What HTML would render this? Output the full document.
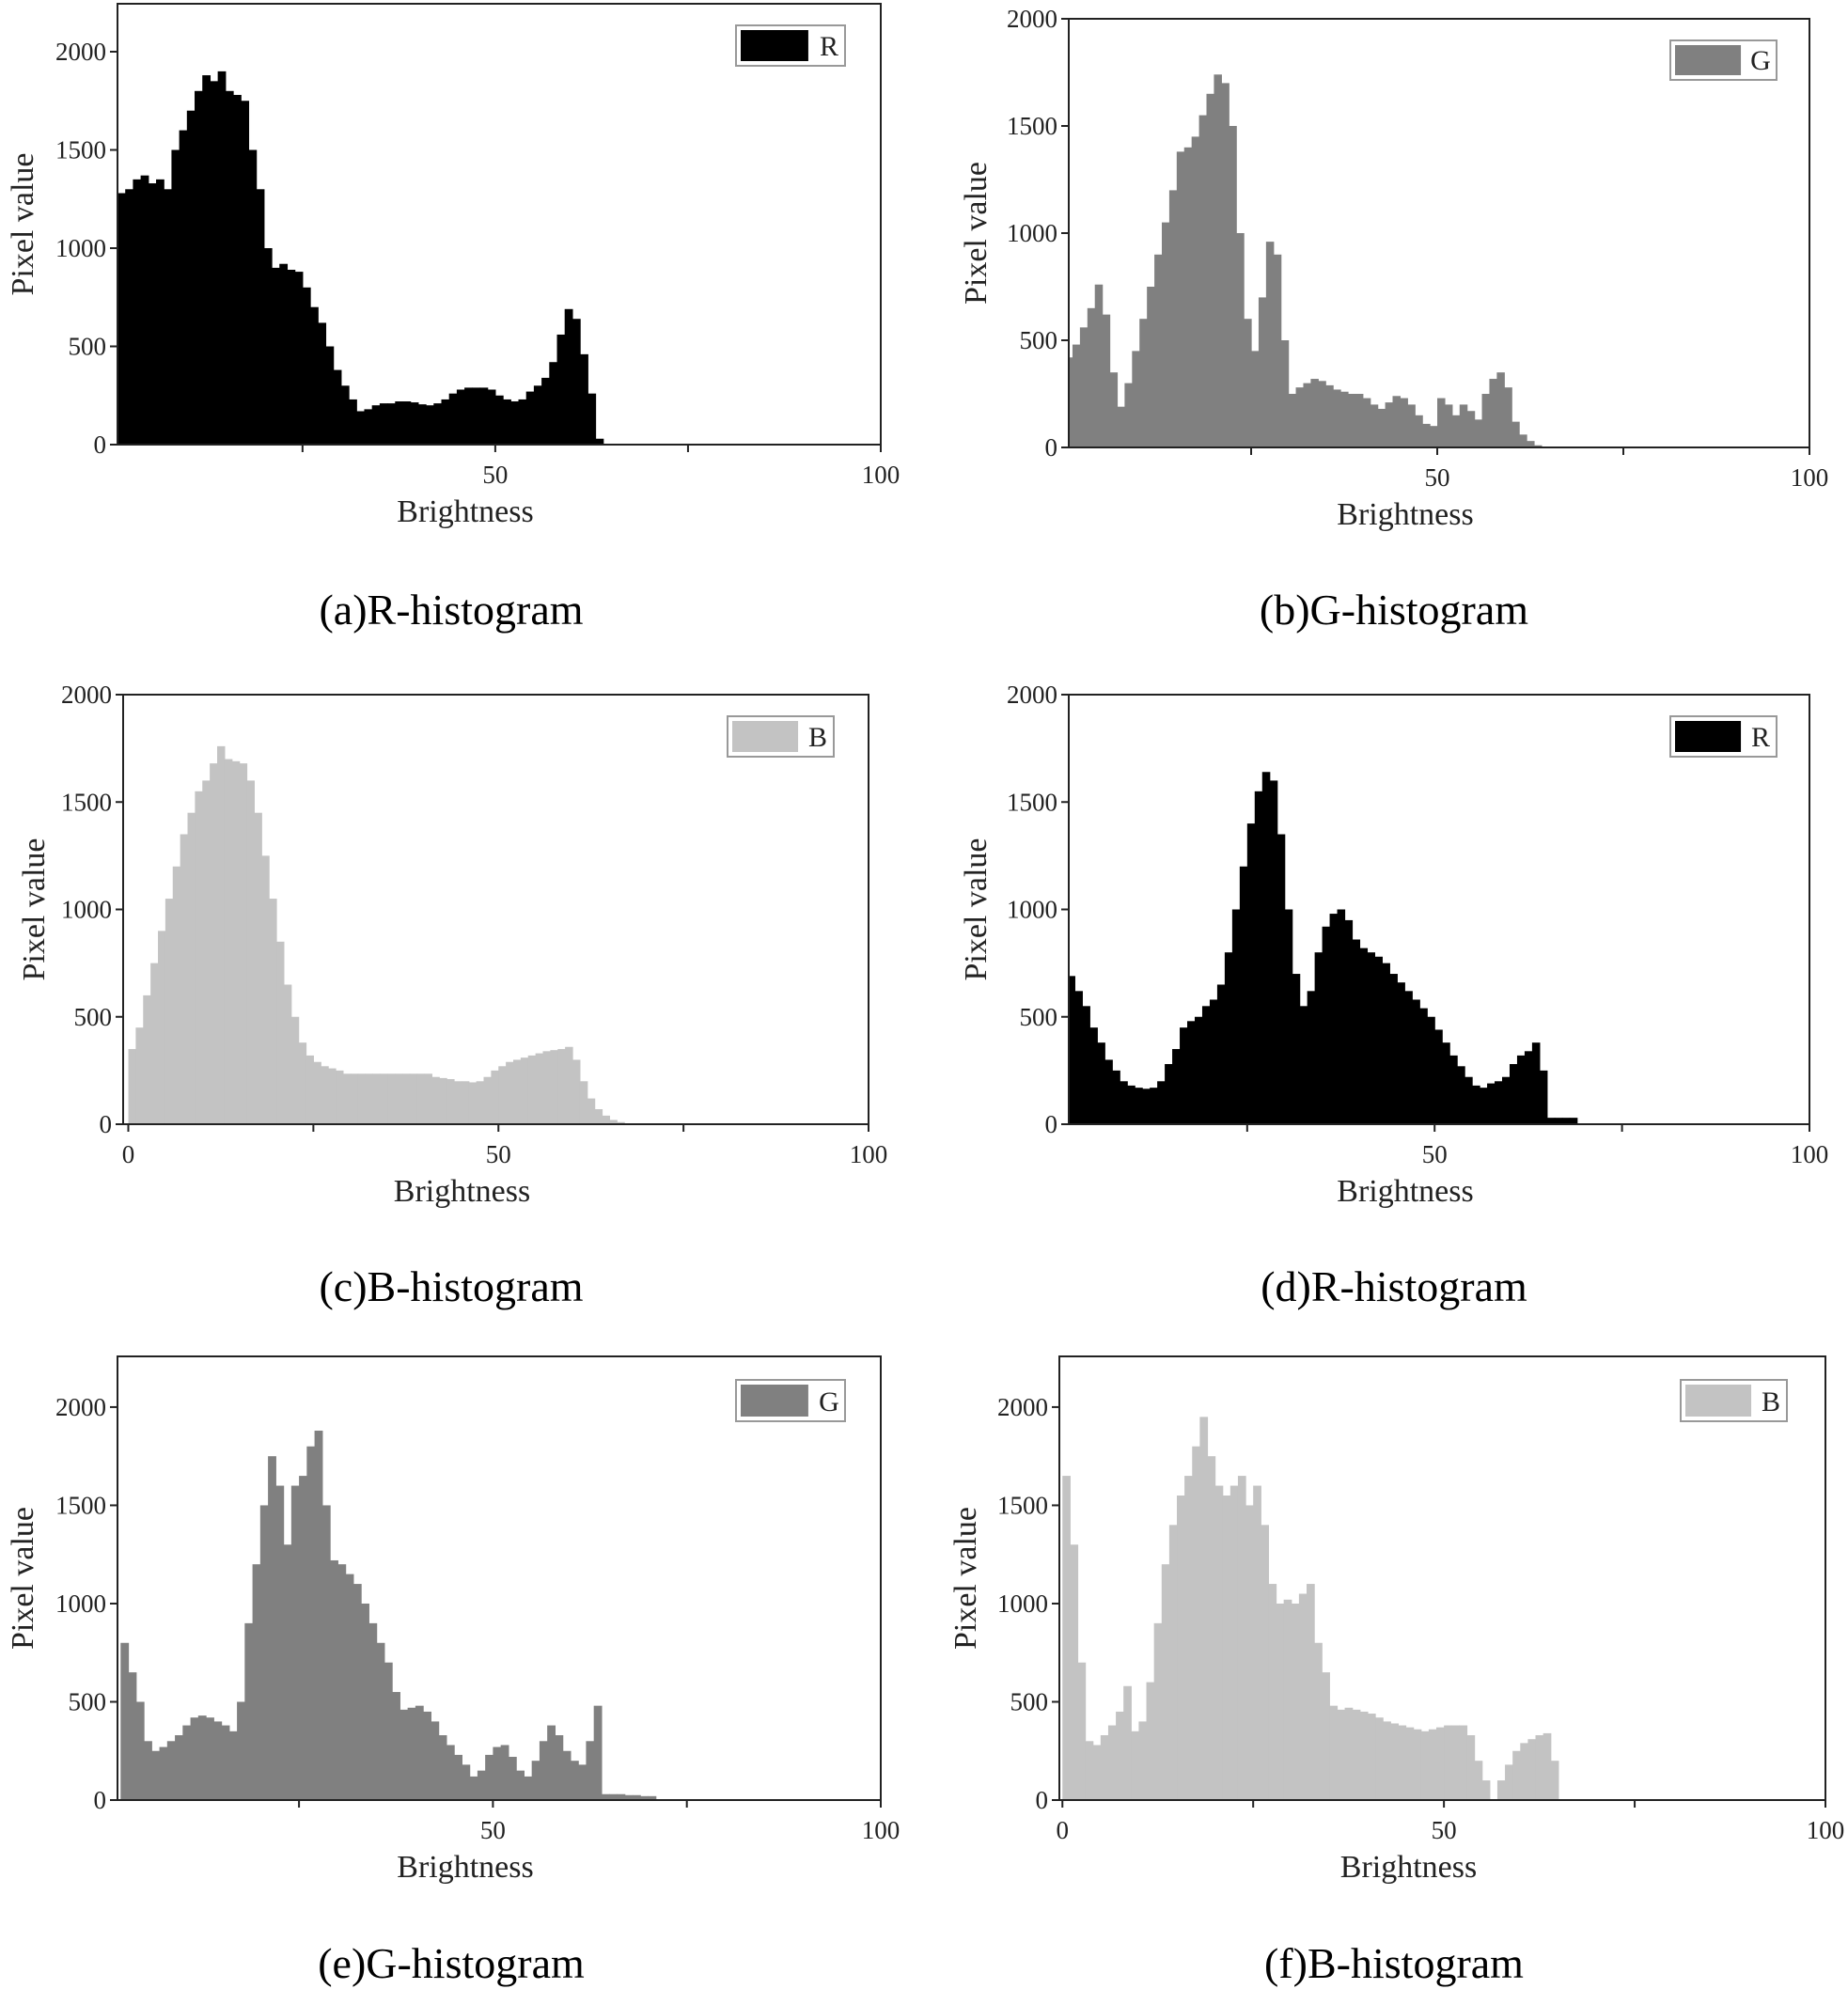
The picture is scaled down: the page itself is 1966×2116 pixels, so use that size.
<!DOCTYPE html>
<html><head><meta charset="utf-8">
<style>
body{margin:0;background:#fff;}
svg{display:block;font-family:"Liberation Serif",serif;}
</style></head>
<body>
<svg id="fig" width="1966" height="2116" viewBox="0 0 1966 2116" xmlns="http://www.w3.org/2000/svg"></svg>
<script>
// ---- data: bin start brightness + bin counts ----
const aStart = 1;
const aVals = [1280,1300,1350,1370,1330,1350,1300,1500,1600,1700,1800,1880,1850,1900,1800,1780,1750,1500,1300,1000,900,920,890,880,800,700,620,500,380,300,230,170,180,200,210,210,220,220,215,205,200,210,230,260,280,290,290,290,280,250,230,220,230,270,300,340,420,560,690,640,460,260,30];
const bStart = 0;
const bVals = [420,480,560,650,760,620,350,190,300,450,600,750,900,1050,1200,1380,1400,1450,1550,1650,1740,1700,1500,1000,600,450,700,960,900,500,250,280,300,320,310,290,270,260,250,250,230,200,180,210,240,230,200,150,110,100,230,200,150,200,170,130,250,320,350,280,120,60,30,10];
const cStart = 0;
const cVals = [350,450,600,750,900,1050,1200,1350,1450,1550,1600,1680,1760,1700,1690,1680,1600,1450,1250,1050,850,650,500,380,320,290,270,260,250,235,235,235,235,235,235,235,235,235,235,235,235,220,215,210,200,200,195,200,220,250,270,290,300,310,320,330,340,345,350,360,300,200,120,70,40,20,10];
const dStart = 1;
const dVals = [690,620,550,450,380,300,250,200,180,170,165,170,200,280,350,450,480,500,550,580,650,800,1000,1200,1400,1550,1640,1600,1350,1000,700,550,620,800,920,980,1000,950,860,820,800,780,750,700,660,620,580,540,500,440,380,320,270,220,180,170,190,200,220,280,320,340,380,250,30,30,30,30];
const eStart = 2;
const eVals = [800,650,500,300,250,270,300,330,380,420,430,420,400,380,350,500,900,1200,1500,1750,1600,1300,1600,1650,1800,1880,1500,1220,1200,1150,1100,1000,900,800,700,550,460,470,480,450,400,330,280,230,180,120,150,230,270,280,220,150,120,200,300,380,330,250,200,180,300,480,30,30,30,25,25,20,20];
const fStart = 0;
const fVals = [1650,1300,700,300,280,330,380,450,580,350,400,600,900,1200,1400,1550,1650,1800,1950,1750,1600,1550,1600,1650,1500,1600,1400,1100,1000,1020,1000,1050,1100,800,650,480,460,470,460,450,440,420,400,390,380,370,360,350,360,370,380,380,380,330,200,100,0,100,180,250,290,310,330,340,200,0];
const yTicks = [0,500,1000,1500,2000];
const xTicks = [0,25,50,75,100];

const NS="http://www.w3.org/2000/svg";
const svg=document.getElementById('fig');
function mk(tag,attrs,parent){const e=document.createElementNS(NS,tag);for(const k in attrs)e.setAttribute(k,attrs[k]);(parent||svg).appendChild(e);return e;}

const panels=[
 {id:'a',start:aStart,vals:aVals,L:125,R:937,T:4,B:473,xmin:1.0,ymax:2244,color:'#000',ch:'R',leg:[783,27,899,70],xl:[50,100],cap:'(a)R-histogram',cx:480,cy:649,py:24},
 {id:'b',start:bStart,vals:bVals,L:1137,R:1925,T:20,B:476,xmin:0.5,ymax:2000,color:'#808080',ch:'G',leg:[1777,43,1890,85],xl:[50,100],cap:'(b)G-histogram',cx:1483,cy:649,py:1038},
 {id:'c',start:cStart,vals:cVals,L:131,R:924,T:739,B:1196,xmin:-0.7,ymax:2000,color:'#c3c3c3',ch:'B',leg:[774,762,887,805],xl:[0,50,100],cap:'(c)B-histogram',cx:480,cy:1369,py:36},
 {id:'d',start:dStart,vals:dVals,L:1137,R:1925,T:739,B:1196,xmin:1.2,ymax:2000,color:'#000',ch:'R',leg:[1777,762,1890,805],xl:[50,100],cap:'(d)R-histogram',cx:1483,cy:1369,py:1038},
 {id:'e',start:eStart,vals:eVals,L:125,R:937,T:1443,B:1915,xmin:1.6,ymax:2258,color:'#808080',ch:'G',leg:[783,1468,899,1512],xl:[50,100],cap:'(e)G-histogram',cx:480,cy:2089,py:24},
 {id:'f',start:fStart,vals:fVals,L:1127,R:1942,T:1443,B:1915,xmin:-0.4,ymax:2258,color:'#c3c3c3',ch:'B',leg:[1788,1468,1901,1512],xl:[0,50,100],cap:'(f)B-histogram',cx:1483,cy:2089,py:1027}
];

panels.forEach(p=>{
  const g=mk('g',{});
  
  
  const xs=v=>p.L+(v-p.xmin)/(100-p.xmin)*(p.R-p.L);
  const ys=v=>p.B-v/p.ymax*(p.B-p.T);
  p.vals.forEach((v,i)=>{
    const x0=Math.max(xs(p.start+i),p.L), x1=xs(p.start+i+1);
    if(x1<=p.L||v<=0) return;
    const r=mk('rect',{x:x0,y:ys(v),width:x1-x0+0.6,height:p.B-ys(v),fill:p.color},g);
    
    
  });
  const fr=mk('rect',{x:p.L,y:p.T,width:p.R-p.L,height:p.B-p.T,fill:'none',stroke:'#222','stroke-width':2},g);
  
  
  yTicks.forEach(t=>{
    const y=ys(t);
    mk('line',{x1:p.L-8,x2:p.L,y1:y,y2:y,stroke:'#222','stroke-width':2},g);
    const tx=mk('text',{x:p.L-12,y:y+9,'font-size':27,'text-anchor':'end',fill:'#222'},g);
    tx.textContent=t;
    
    
  });
  xTicks.forEach(t=>{
    const x=xs(t); if(x<p.L-1) return;
    mk('line',{x1:x,x2:x,y1:p.B,y2:p.B+8,stroke:'#222','stroke-width':2},g);
  });
  p.xl.forEach(t=>{
    const tx=mk('text',{x:xs(t),y:p.B+41,'font-size':27,'text-anchor':'middle',fill:'#222'},g);
    tx.textContent=t;
    
    
  });
  const xt=mk('text',{x:(p.L+p.R)/2-36,y:p.B+82,'font-size':34,'text-anchor':'middle',fill:'#222'},g);
  xt.textContent='Brightness';
  
  
  const ym=(p.T+p.B)/2;
  const yt=mk('text',{x:p.py+11,y:ym,'font-size':34,'text-anchor':'middle',fill:'#222',transform:'rotate(-90 '+(p.py+11)+' '+ym+')'},g);
  yt.textContent='Pixel value';
  
  
  const [lx0,ly0,lx1,ly1]=p.leg;
  const lb=mk('rect',{x:lx0,y:ly0,width:lx1-lx0,height:ly1-ly0,fill:'#fff',stroke:'#999','stroke-width':2},g);
  
  
  const lp=mk('rect',{x:lx0+5,y:ly0+5,width:(lx1-lx0)*0.62,height:ly1-ly0-10,fill:p.color},g);
  
  
  const lt=mk('text',{x:lx1-17,y:ly1-11,'font-size':30,'text-anchor':'middle',fill:'#222'},g);
  lt.textContent=p.ch;
  
  
  const cp=mk('text',{x:p.cx,y:p.cy+15,'font-size':46,'text-anchor':'middle',fill:'#000'},g);
  cp.textContent=p.cap;
  
  
});
</script>
</body></html>
